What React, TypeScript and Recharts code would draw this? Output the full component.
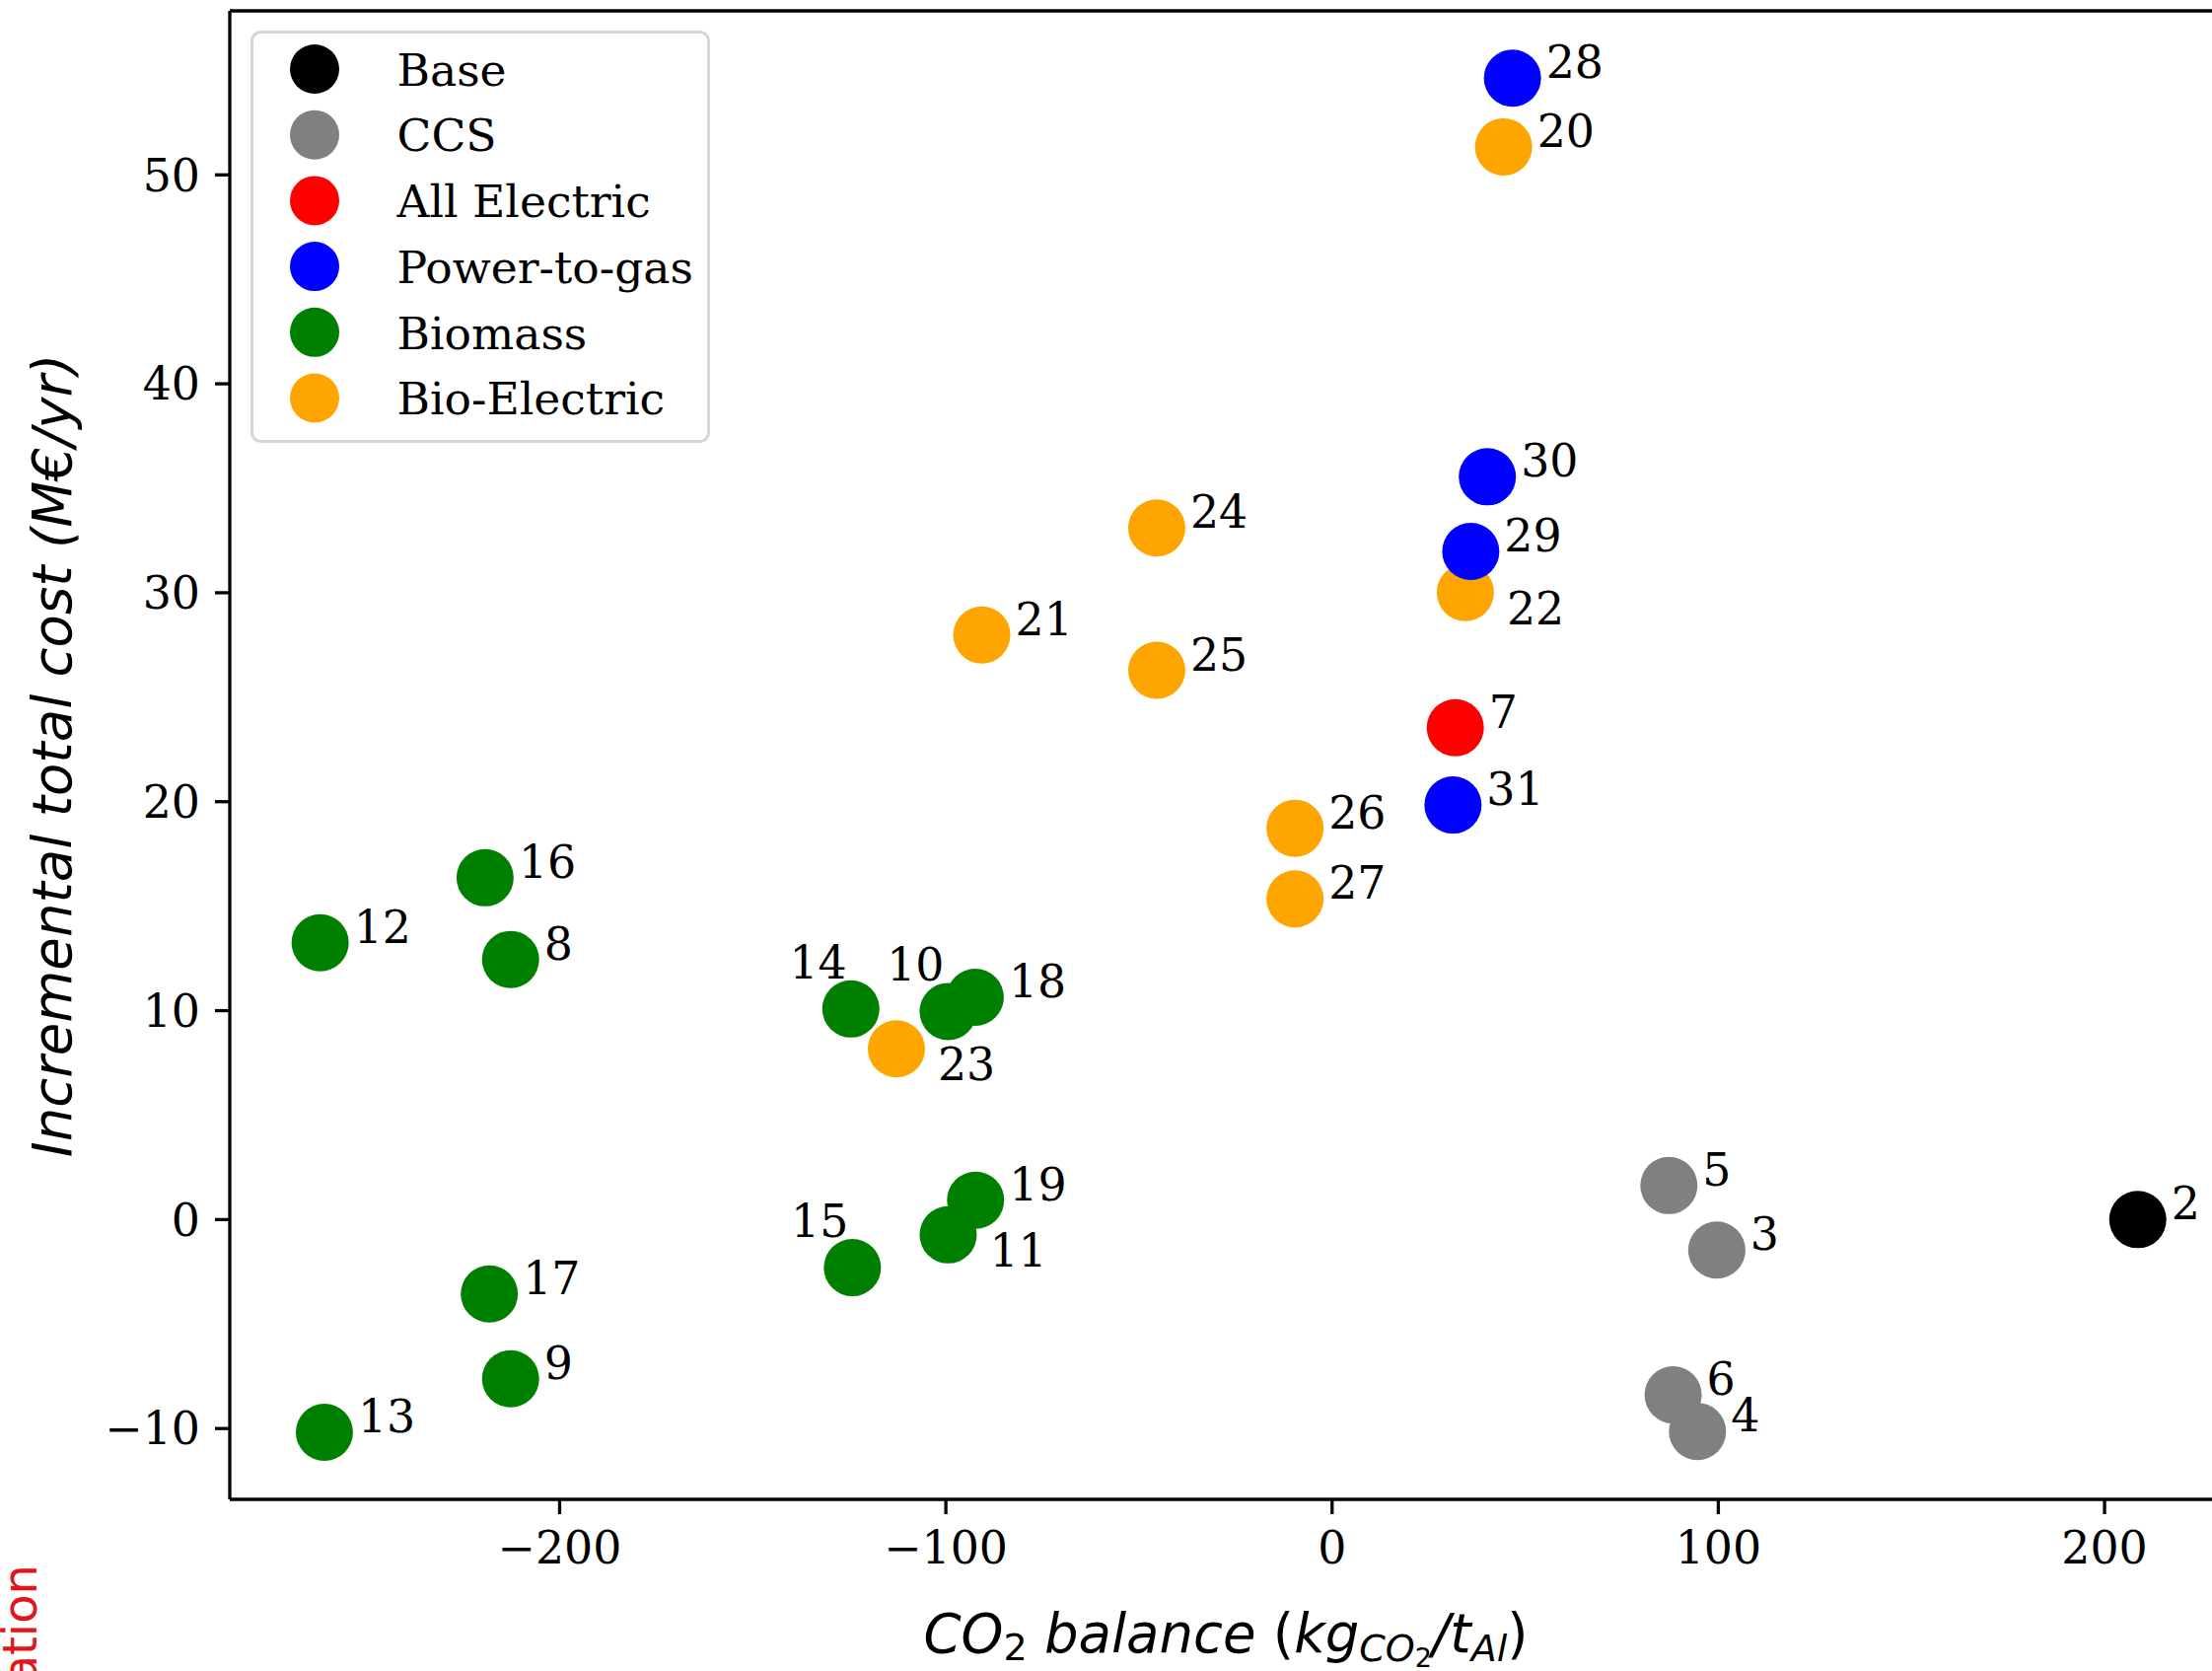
import { Legend, ReferenceLine, Scatter, ScatterChart, XAxis, YAxis } from "recharts";

// [case id, CO2 balance (kg/t Al), incremental total cost (M€/yr)]
type Row = [number, number, number];

const categories = ["Base", "CCS", "All Electric", "Power-to-gas", "Biomass", "Bio-Electric"];
const categoryColors = ["#000000", "#808080", "#ff0000", "#0000ff", "#008000", "#ffa500"];

const base: Row[] = [[2, 208.6, 0]];
const ccs: Row[] = [
  [3, 99.6, -1.46],
  [4, 94.6, -10.14],
  [5, 87.2, 1.63],
  [6, 88.3, -8.39],
];
const allElectric: Row[] = [[7, 31.9, 23.54]];
const powerToGas: Row[] = [
  [28, 46.7, 54.63],
  [29, 35.9, 31.98],
  [30, 40.2, 35.55],
  [31, 31.3, 19.84],
];
const biomass: Row[] = [
  [12, -262.0, 13.25],
  [13, -260.9, -10.18],
  [14, -124.6, 10.08],
  [15, -124.2, -2.3],
  [16, -219.3, 16.36],
  [17, -218.2, -3.56],
  [18, -92.4, 10.64],
  [19, -92.3, 0.93],
  [8, -212.7, 12.45],
  [9, -212.7, -7.62],
  [10, -99.4, 9.96],
  [11, -99.4, -0.73],
];
const bioElectric: Row[] = [
  [20, 44.4, 51.34],
  [21, -90.7, 27.98],
  [22, 34.5, 30.01],
  [23, -112.8, 8.17],
  [24, -45.4, 33.1],
  [25, -45.4, 26.29],
  [26, -9.6, 18.73],
  [27, -9.6, 15.35],
];

const xTicks = [-200, -100, 0, 100, 200];
const yTicks = [-10, 0, 10, 20, 30, 40, 50];
const xDomain: [number, number] = [-285.4, 231.9];
const yDomain: [number, number] = [-13.39, 57.85];

// annotation placement that differs from the default (right of the marker)
const labelBelowRight = [22, 23, 11];
const labelAboveLeft = [14, 10, 15];

// draw order: later groups sit on top where markers overlap
const groups: Array<[Row[], number]> = [
  [base, 0],
  [ccs, 1],
  [allElectric, 2],
  [biomass, 4],
  [bioElectric, 5],
  [powerToGas, 3],
];

const points = groups.flatMap(([rows, c]) =>
  rows.map(([id, x, y]) => ({ id, x, y, color: categoryColors[c] }))
);

const serif = "'DejaVu Serif', serif";
const sans = "'DejaVu Sans', sans-serif";

const minus = (v: number) => (v < 0 ? `\u2212${Math.abs(v)}` : `${v}`);

function Dot(props: any) {
  const { cx, cy, payload } = props;
  return <circle cx={cx} cy={cy} r={29} fill={payload.color} />;
}

function Tag(props: any) {
  const { cx, cy, payload } = props;
  const id = payload.id;
  let x = cx + 34;
  let y = cy;
  let anchor: "start" | "end" = "start";
  if (labelBelowRight.includes(id)) {
    x = cx + 42;
    y = cy + 32;
  } else if (labelAboveLeft.includes(id)) {
    x = cx - 4;
    y = cy - 31;
    anchor = "end";
  }
  return (
    <text x={x} y={y} textAnchor={anchor} fontFamily={serif} fontSize={45.8} fill="#000">
      {id}
    </text>
  );
}

function LegendBox() {
  return (
    <svg width={466} height={418} style={{ display: "block" }}>
      <rect
        x={1.5}
        y={1.5}
        width={463}
        height={415}
        rx={9}
        fill="#fff"
        fillOpacity={0.8}
        stroke="#d6d6d6"
        strokeWidth={3}
      />
      {categories.map((c, i) => (
        <g key={c}>
          <circle cx={65} cy={39 + i * 66.7} r={25} fill={categoryColors[i]} />
          <text x={148.5} y={55.7 + i * 66.7} fontFamily={serif} fontSize={45.6} fill="#000">
            {c}
          </text>
        </g>
      ))}
    </svg>
  );
}

function YTitle() {
  return (
    <g>
      <text
        transform="translate(71.5,766) rotate(-90)"
        textAnchor="middle"
        fontFamily={sans}
        fontStyle="italic"
        fontSize={54.5}
        fill="#000"
      >
        Incremental total cost (M€/yr)
      </text>
      <text
        transform="translate(37,1586) rotate(-90)"
        textAnchor="end"
        fontFamily={sans}
        fontSize={48}
        fill="#e3151b"
      >
        ation
      </text>
    </g>
  );
}

function XTitle() {
  return (
    <text x={1243} y={1675} textAnchor="middle" fontFamily={sans} fontSize={54.5} fill="#000">
      <tspan fontStyle="italic">CO</tspan>
      <tspan fontSize={38} dy={8}>2</tspan>
      <tspan fontStyle="italic" dy={-8}>{" balance "}</tspan>
      <tspan>(</tspan>
      <tspan fontStyle="italic">kg</tspan>
      <tspan fontStyle="italic" fontSize={38} dy={9}>CO</tspan>
      <tspan fontSize={27} dy={6}>2</tspan>
      <tspan fontStyle="italic" dy={-15}>/t</tspan>
      <tspan fontStyle="italic" fontSize={38} dy={9}>Al</tspan>
      <tspan dy={-9}>)</tspan>
    </text>
  );
}

const axisStroke = { stroke: "#000", strokeWidth: 3.3 };
const tickFont = { fill: "#000", fontSize: 45.8, fontFamily: serif };

export default function App() {
  return (
    <div
      style={{
        position: "absolute",
        left: 0,
        top: 0,
        width: 2243,
        height: 1694,
        overflow: "hidden",
        background: "#fff",
      }}
    >
      <ScatterChart width={2300} height={1694} margin={{ top: 11, right: 41, bottom: 0, left: 0 }}>
        <XAxis
          type="number"
          dataKey="x"
          domain={xDomain}
          allowDataOverflow
          ticks={xTicks}
          interval={0}
          tickFormatter={minus}
          tick={tickFont}
          tickSize={15}
          tickMargin={17}
          axisLine={axisStroke}
          tickLine={axisStroke}
          height={174}
          label={<XTitle />}
        />
        <YAxis
          type="number"
          dataKey="y"
          domain={yDomain}
          allowDataOverflow
          ticks={yTicks}
          interval={0}
          tickFormatter={minus}
          tick={tickFont}
          tickSize={15}
          tickMargin={15}
          axisLine={axisStroke}
          tickLine={axisStroke}
          width={233}
          label={<YTitle />}
        />
        {/* top spine of the frame */}
        <ReferenceLine y={yDomain[1]} ifOverflow="visible" stroke="#000" strokeWidth={3.3} />
        <Legend
          layout="vertical"
          align="center"
          verticalAlign="middle"
          content={<LegendBox />}
          wrapperStyle={{ position: "absolute", left: 254, top: 31, width: 466, height: 418 }}
        />
        <Scatter data={points} shape={Dot} isAnimationActive={false} legendType="none" />
        <Scatter data={points} shape={Tag} isAnimationActive={false} legendType="none" />
      </ScatterChart>
    </div>
  );
}
